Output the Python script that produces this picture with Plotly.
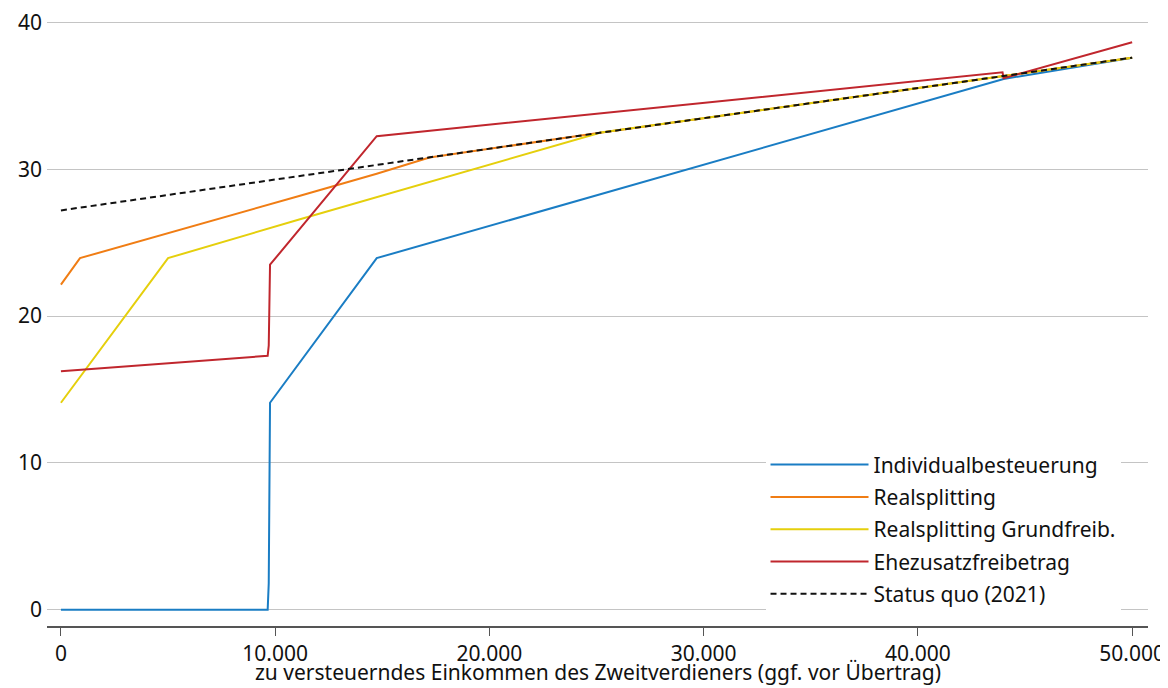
import plotly.graph_objects as go

# Data
x_ind = [0, 9650, 9700, 9760, 14740, 44000, 50000]
y_ind = [0, 0, 1.8, 14.1, 23.95, 36.15, 37.6]

x_real = [0, 890, 11160, 14740, 17200, 25000, 44000, 50000]
y_real = [22.15, 23.95, 28.2, 29.7, 30.8, 32.45, 36.35, 37.6]

x_grund = [0, 5000, 11160, 14740, 25200, 44000, 50000]
y_grund = [14.1, 23.95, 26.6, 28.1, 32.5, 36.35, 37.6]

x_ehe = [0, 9650, 9700, 9760, 14740, 43950, 44000, 50000]
y_ehe = [16.25, 17.3, 18.0, 23.5, 32.25, 36.6, 36.2, 38.65]

x_sq = [0, 10000, 17200, 25000, 44000, 50000]
y_sq = [27.2, 29.3, 30.8, 32.45, 36.35, 37.6]

names = ["Individualbesteuerung", "Realsplitting", "Realsplitting Grundfreib.",
         "Ehezusatzfreibetrag", "Status quo (2021)"]
colors = ["#1a7dc4", "#f07d14", "#e5cf0c", "#c0262d", "#111111"]

x_ticks = [0, 10000, 20000, 30000, 40000, 50000]
y_ticks = [0, 10, 20, 30, 40]
x_title = "zu versteuerndes Einkommen des Zweitverdieners (ggf. vor Übertrag)"

fig = go.Figure()
series = [(x_ind, y_ind), (x_real, y_real), (x_grund, y_grund), (x_ehe, y_ehe), (x_sq, y_sq)]
for i, ((xs, ys), n, c) in enumerate(zip(series, names, colors)):
    fig.add_trace(go.Scatter(
        x=xs, y=ys, mode="lines", name=n, legendgroup="g%d" % i,
        line=dict(color=c, width=2, dash="6px,4px" if i == 4 else "solid"),
    ))

font_family = "Noto Sans, Open Sans, sans-serif"
fig.update_layout(
    width=1160, height=680,
    margin=dict(l=39, r=20, t=10, b=62),
    paper_bgcolor="white", plot_bgcolor="white",
    separators=",.",
    font=dict(family=font_family, size=21, color="#111111"),
    showlegend=True,
    legend=dict(
        x=0.6526, y=0.019, xanchor="left", yanchor="bottom",
        bgcolor="white", borderwidth=0,
        font=dict(size=21, color="#111111"),
        itemwidth=98, tracegroupgap=2, traceorder="grouped",
    ),
    xaxis=dict(
        range=[-650, 50740], tickvals=x_ticks, tickformat=",d",
        showgrid=False, zeroline=False, automargin=False,
        showline=True, linecolor="#555555", linewidth=2,
        ticks="outside", ticklen=8, tickcolor="#555555", tickwidth=1,
        tickfont=dict(size=21), ticklabeloverflow="allow",
    ),
    yaxis=dict(
        range=[-1.1, 40.3], tickvals=y_ticks, automargin=False,
        showgrid=True, gridcolor="#c4c4c4", gridwidth=1,
        zeroline=False, showline=False, ticks="",
        tickfont=dict(size=21), ticklabelstandoff=4,
        ticklabeloverflow="allow",
    ),
    annotations=[dict(
        text=x_title, xref="paper", yref="paper", x=0.5, y=-0.102,
        xanchor="center", yanchor="bottom", showarrow=False,
        font=dict(size=21, color="#111111"),
    )],
)

fig.write_html("out.html")
